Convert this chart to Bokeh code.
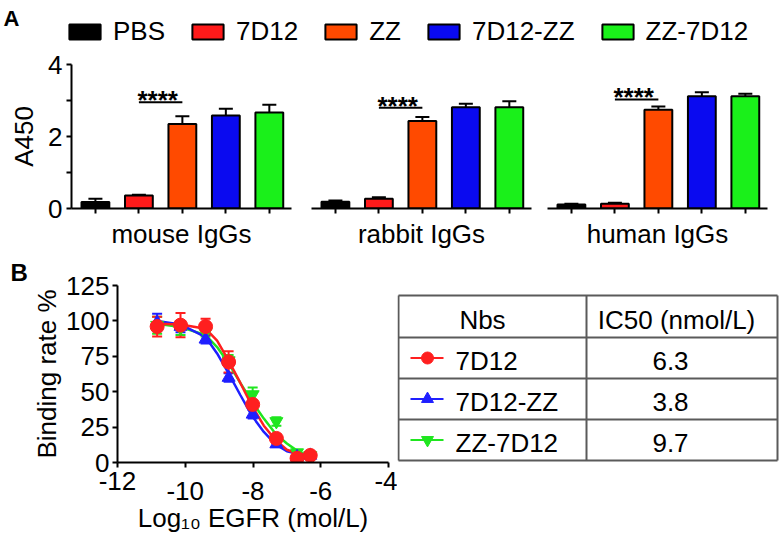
from bokeh.plotting import figure
from bokeh.models import (ColumnDataSource, Range1d, FixedTicker, Whisker, TeeHead,
                          Legend, LegendItem, Label, LinearAxis)
from bokeh.layouts import column, row
from bokeh.embed import file_html
from bokeh.resources import INLINE
from bokeh.core.properties import value

FONT = "Liberation Sans"
FS = "26px"

# ---------------- Panel A data ----------------
groups = ["mouse IgGs", "rabbit IgGs", "human IgGs"]
series = ["PBS", "7D12", "ZZ", "7D12-ZZ", "ZZ-7D12"]
colors_a = ["#000000", "#FF1A1A", "#FF4A00", "#0A0AF0", "#1AF01A"]
a450_mouse = [0.18, 0.36, 2.35, 2.58, 2.67]
a450_mouse_err = [0.09, 0.02, 0.21, 0.19, 0.21]
a450_rabbit = [0.19, 0.27, 2.43, 2.81, 2.81]
a450_rabbit_err = [0.03, 0.04, 0.11, 0.10, 0.17]
a450_human = [0.11, 0.13, 2.74, 3.12, 3.12]
a450_human_err = [0.02, 0.03, 0.09, 0.11, 0.07]
sig_text = "****"
sig_from, sig_to = 1, 2          # 7D12 vs ZZ
sig_y = [2.95, 2.80, 3.03]
a_ticks = [0, 2, 4]
a_minor_ticks = [1, 3]

# ---------------- Panel B data ----------------
log_egfr = [-10.83, -10.14, -9.40, -8.72, -8.01, -7.31, -6.70, -6.31]
rate_7d12 = [96, 97, 96, 71, 41, 17, 3, 5]
err_7d12 = [7, 8.5, 5.5, 7.5, 3, 3, 1.5, 1.5]
rate_7d12zz = [99, 96, 87, 60, 34, 13, 4, 5]
err_7d12zz = [6, 4, 3, 3, 3, 2, 1.5, 1.5]
rate_zz7d12 = [97, 95, 92, 72, 48, 29, 7, 5]
err_zz7d12 = [6, 5, 3, 4, 5, 3, 1.5, 1.5]
fit_x = [-10.83, -10.14, -9.40, -9.06, -8.72, -8.37, -8.03, -7.68, -7.34, -7.00, -6.65, -6.31]
fit_7d12 = [98, 97.5, 94.5, 86, 72, 56, 40, 26, 16, 9, 6, 4.5]
fit_7d12zz = [100, 97.5, 88.6, 77, 63, 47.5, 33, 21.6, 13, 8, 6, 5]
fit_zz7d12 = [98, 95.6, 90, 81.5, 70, 56, 43, 31, 20.4, 13.4, 7.5, 4.5]
b_xticks_upper = [-12, -4]
b_xticks_lower = [-10, -8, -6]
b_yticks = [0, 25, 50, 75, 100, 125]
nbs = ["7D12", "7D12-ZZ", "ZZ-7D12"]
ic50 = ["6.3", "3.8", "9.7"]
colors_b = ["#FF1F1F", "#1F1FFF", "#1FE61F"]
markers_b = ["circle", "triangle", "inverted_triangle"]


def style_axis(ax):
    ax.axis_line_width = 2
    ax.axis_line_color = "black"
    ax.major_tick_line_width = 2
    ax.major_tick_line_color = "black"
    ax.minor_tick_line_width = 2
    ax.minor_tick_line_color = "black"
    ax.major_tick_out = 5
    ax.major_tick_in = 0
    ax.minor_tick_out = 5
    ax.minor_tick_in = 0
    ax.major_label_text_font = FONT
    ax.major_label_text_font_size = FS
    ax.major_label_text_color = "black"
    ax.axis_label_text_font = FONT
    ax.axis_label_text_font_size = FS
    ax.axis_label_text_font_style = "normal"
    ax.axis_label_text_color = "black"


# ---------------- legend strip ----------------
lp = figure(width=779, height=50, x_range=Range1d(0, 779), y_range=Range1d(50, 0),
            output_backend="svg", toolbar_location=None, min_border=0,
            x_axis_location=None, y_axis_location=None, outline_line_color=None)
lp.grid.visible = False
items = []
for s, c in zip(series, colors_a):
    # legend-only renderer: zero-size bar hidden under the first legend swatch
    r = lp.vbar(x=[84], bottom=[31], top=[31], width=0, fill_color=c,
                line_color="black", line_width=2)
    items.append(LegendItem(label=s, renderers=[r]))
leg = Legend(items=items, orientation="horizontal", location=(65, 3),
             glyph_width=39, glyph_height=19, label_text_font=FONT,
             label_text_font_size="26px", label_text_color="black",
             spacing=23, label_standoff=9,
             padding=0, margin=0, border_line_color=None, background_fill_alpha=0)
lp.add_layout(leg)
lp.add_layout(Label(x=3, y=45, x_units="screen", y_units="screen", text="A",
                    text_font=FONT, text_font_size="22px", text_font_style="bold",
                    text_color="black", text_baseline="top"))

# ---------------- panel A groups ----------------
vals_all = [a450_mouse, a450_rabbit, a450_human]
errs_all = [a450_mouse_err, a450_rabbit_err, a450_human_err]
dims = [(301, 71, 10), (238, 10, 8), (240, 8, 12)]
a_figs = []
for gi, (g, vals, errs) in enumerate(zip(groups, vals_all, errs_all)):
    w, ml, mr = dims[gi]
    p = figure(width=w, height=202, x_range=Range1d(-0.55, 4.51), y_range=Range1d(0, 4),
               output_backend="svg", toolbar_location=None,
               min_border_left=ml, min_border_right=mr, min_border_top=14, min_border_bottom=44,
               y_axis_location="left" if gi == 0 else None, outline_line_color=None)
    p.grid.visible = False
    xs = list(range(len(series)))
    src = ColumnDataSource(dict(x=xs, top=vals, up=[v + e for v, e in zip(vals, errs)],
                                color=colors_a))
    p.add_layout(Whisker(source=src, base="x", lower="top", upper="up",
                         upper_head=TeeHead(size=14, line_width=2, line_color="black"),
                         lower_head=None, line_width=2, line_color="black", level="underlay"))
    p.vbar(x="x", top="top", width=0.64, source=src, fill_color="color",
           line_color="black", line_width=2)
    p.segment(x0=[sig_from], y0=[sig_y[gi]], x1=[sig_to], y1=[sig_y[gi]],
              line_color="black", line_width=2)
    p.text(x=[(sig_from + sig_to) / 2], y=[sig_y[gi]], text=[sig_text],
           text_font=value(FONT), text_font_size="26px", text_font_style="bold",
           text_align="center", text_baseline="alphabetic", y_offset=-2, x_offset=-3)
    xa = p.xaxis[0]
    style_axis(xa)
    xa.ticker = FixedTicker(ticks=[], minor_ticks=xs)
    xa.major_label_standoff = 0
    xa.axis_label = g
    xa.axis_label_standoff = 5
    if gi == 0:
        ya = p.yaxis[0]
        style_axis(ya)
        ya.ticker = FixedTicker(ticks=a_ticks, minor_ticks=a_minor_ticks)
        ya.major_label_standoff = 4
        ya.axis_label = "A450"
        ya.axis_label_standoff = 6
    a_figs.append(p)

# ---------------- panel B ----------------
B_H, B_TOP, B_BOTTOM = 283, 33, 73
pb = figure(width=397, height=B_H, x_range=Range1d(-12, -4), y_range=Range1d(0, 125),
            output_backend="svg", toolbar_location=None,
            min_border_left=117, min_border_right=9, min_border_top=B_TOP,
            min_border_bottom=B_BOTTOM, outline_line_color=None)
pb.grid.visible = False
pb.title.text = "B"
pb.title.align = "left"
pb.title.offset = -107
pb.title.standoff = 0
pb.title.text_font = FONT
pb.title.text_font_size = "24px"
pb.title.text_font_style = "bold"
pb.title.text_color = "black"
rates = [rate_zz7d12, rate_7d12zz, rate_7d12]
errs_b = [err_zz7d12, err_7d12zz, err_7d12]
fits = [fit_zz7d12, fit_7d12zz, fit_7d12]
order = [2, 1, 0]
for k, idx in enumerate(order):
    pb.line(fit_x, fits[k], line_color=colors_b[idx], line_width=2.5)
for k, idx in enumerate(order):
    c = colors_b[idx]
    src = ColumnDataSource(dict(x=log_egfr, y=rates[k],
                                lo=[r - e for r, e in zip(rates[k], errs_b[k])],
                                hi=[r + e for r, e in zip(rates[k], errs_b[k])]))
    pb.add_layout(Whisker(source=src, base="x", lower="lo", upper="hi",
                          upper_head=TeeHead(size=10, line_width=2, line_color=c),
                          lower_head=TeeHead(size=10, line_width=2, line_color=c),
                          line_width=2, line_color=c))
    pb.scatter("x", "y", source=src, marker=markers_b[idx], size=14 if idx == 0 else 13,
               fill_color=c, line_color=c)
ya = pb.yaxis[0]
style_axis(ya)
ya.ticker = FixedTicker(ticks=b_yticks)
ya.major_label_standoff = 3
ya.axis_label = "Binding rate %"
ya.axis_label_standoff = 1
xa1 = pb.xaxis[0]
style_axis(xa1)
xa1.ticker = FixedTicker(ticks=b_xticks_upper, minor_ticks=b_xticks_lower)
xa1.major_label_overrides = {t: str(t) for t in b_xticks_upper}
xa1.major_label_standoff = 4
xa2 = LinearAxis(ticker=FixedTicker(ticks=b_xticks_lower, minor_ticks=[]))
style_axis(xa2)
xa2.axis_line_color = None
xa2.major_tick_line_color = None
xa2.minor_tick_line_color = None
xa2.major_tick_out = 0
xa2.minor_tick_out = 0
xa2.major_label_overrides = {t: str(t) for t in b_xticks_lower}
xa2.major_label_standoff = -11
xa2.axis_label = "Log\u2081\u2080 EGFR (mol/L)"
xa2.axis_label_standoff = 0
pb.add_layout(xa2, "below")

# ---------------- table ----------------
tb = figure(width=382, height=B_H, x_range=Range1d(0, 382), y_range=Range1d(177, 0),
            output_backend="svg", toolbar_location=None, min_border_left=0,
            min_border_right=0, min_border_top=B_TOP, min_border_bottom=B_BOTTOM,
            x_axis_location=None, y_axis_location=None, outline_line_color=None)
tb.grid.visible = False
row_lines = [10, 52, 93, 134, 175]
col_lines = [1, 189, 380]
tb.segment(x0=[col_lines[0]] * len(row_lines), x1=[col_lines[-1]] * len(row_lines),
           y0=row_lines, y1=row_lines, line_color="#5a5a5a", line_width=2)
tb.segment(x0=col_lines, x1=col_lines, y0=[row_lines[0]] * 3, y1=[row_lines[-1]] * 3,
           line_color="#5a5a5a", line_width=2)
hdr_y = (row_lines[0] + row_lines[1]) / 2
row_y = [(row_lines[i] + row_lines[i + 1]) / 2 for i in range(1, 4)]
tb.text(x=[85, 279], y=[hdr_y, hdr_y], text=["Nbs", "IC50 (nmol/L)"],
        text_font=value(FONT), text_font_size=FS, text_align="center",
        text_baseline="middle", y_offset=3)
tb.text(x=[58] * 3, y=row_y, text=nbs, text_font=value(FONT), text_font_size=FS,
        text_align="left", text_baseline="middle", y_offset=3)
tb.text(x=[273] * 3, y=row_y, text=ic50, text_font=value(FONT), text_font_size=FS,
        text_align="center", text_baseline="middle", y_offset=3)
tb.segment(x0=[13] * 3, x1=[46] * 3, y0=row_y, y1=row_y, line_color=colors_b, line_width=2)
for i in range(3):
    tb.scatter([30], [row_y[i]], marker=markers_b[i], size=12,
               fill_color=colors_b[i], line_color=colors_b[i])

layout = column(lp, row(*a_figs), row(pb, tb))
open("out.html", "w").write(file_html(layout, INLINE))
